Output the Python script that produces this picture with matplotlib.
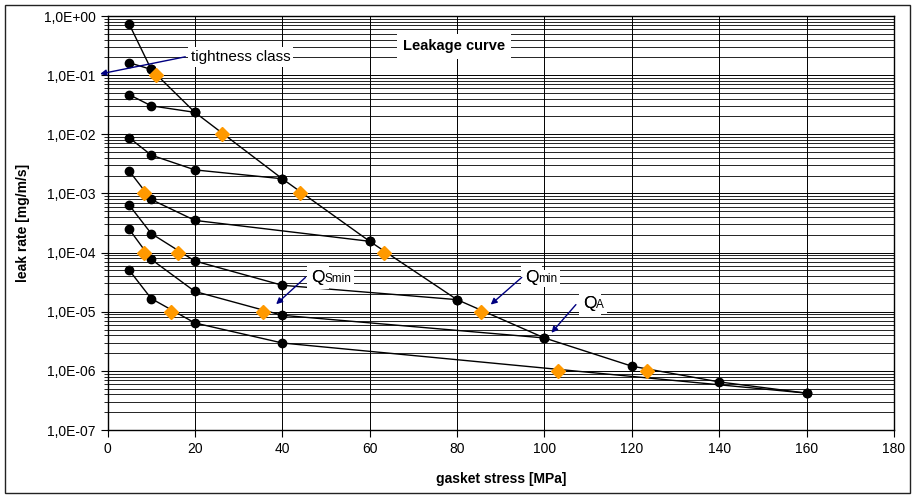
import numpy as np
import matplotlib
matplotlib.use("Agg")
import matplotlib.pyplot as plt
from matplotlib.ticker import FixedLocator, FixedFormatter, LogLocator, NullFormatter

plt.rcParams['font.family'] = ['Liberation Sans', 'DejaVu Sans']

# loading curve (gasket stress MPa -> leak rate mg/m/s)
load_x = [5, 10, 20, 40, 60, 80, 100, 120, 140, 160]
load_y = [0.72, 0.125, 0.0235, 0.00177, 1.55e-4, 1.6e-5, 3.6e-6, 1.2e-6, 6.5e-7, 4.2e-7]

# unloading curves, each starts at its peak on the loading curve
unload_10_x = [10, 5]
unload_10_y = [0.125, 0.162]
unload_20_x = [20, 10, 5]
unload_20_y = [0.0235, 0.0303, 0.0466]
unload_40_x = [40, 20, 10, 5]
unload_40_y = [0.00177, 0.0025, 0.00445, 0.0087]
unload_60_x = [60, 20, 10, 5]
unload_60_y = [1.55e-4, 3.5e-4, 7.9e-4, 0.00238]
unload_80_x = [80, 40, 20, 10, 5]
unload_80_y = [1.6e-5, 2.8e-5, 7.2e-5, 2.1e-4, 6.3e-4]
unload_100_x = [100, 40, 20, 10, 5]
unload_100_y = [3.6e-6, 8.7e-6, 2.2e-5, 7.7e-5, 2.46e-4]
unload_160_x = [160, 40, 20, 10, 5]
unload_160_y = [4.2e-7, 2.96e-6, 6.45e-6, 1.67e-5, 5.0e-5]

# tightness class crossings (orange diamonds)
class_x = [11, 26.1, 44, 63.3, 85.5, 103.2, 123.5, 8.4, 8.4, 16.2, 14.5, 35.7]
class_y = [1e-1, 1e-2, 1e-3, 1e-4, 1e-5, 1e-6, 1e-6, 1e-3, 1e-4, 1e-4, 1e-5, 1e-5]

x_ticks = [0, 20, 40, 60, 80, 100, 120, 140, 160, 180]
y_ticks = [1e-7, 1e-6, 1e-5, 1e-4, 1e-3, 1e-2, 1e-1, 1e0]
y_tick_labels = ['1,0E-07', '1,0E-06', '1,0E-05', '1,0E-04',
                 '1,0E-03', '1,0E-02', '1,0E-01', '1,0E+00']

fig = plt.figure(figsize=(9.17, 4.95), dpi=100)
ax = fig.add_axes([107.5 / 917, 65 / 495, 786.5 / 917, 414 / 495])
ax.set_yscale('log')
ax.set_xlim(0, 180)
ax.set_ylim(1e-7, 1e0)

curves = [(load_x, load_y), (unload_10_x, unload_10_y), (unload_20_x, unload_20_y),
          (unload_40_x, unload_40_y), (unload_60_x, unload_60_y),
          (unload_80_x, unload_80_y), (unload_100_x, unload_100_y),
          (unload_160_x, unload_160_y)]
for cx, cy in curves:
    ax.plot(cx, cy, color='black', lw=1.0, marker='o', ms=6, zorder=3)
ax.plot(class_x, class_y, ls='none', marker='D', ms=7.5, color='#FF9900',
        mec='#FF9900', zorder=4)

# axes / ticks
ax.xaxis.set_major_locator(FixedLocator(x_ticks))
ax.yaxis.set_major_locator(FixedLocator(y_ticks))
ax.yaxis.set_major_formatter(FixedFormatter(y_tick_labels))
ax.yaxis.set_minor_locator(LogLocator(base=10, subs=np.arange(2, 10)))
ax.yaxis.set_minor_formatter(NullFormatter())
ax.tick_params(axis='both', which='major', direction='out', length=5, width=0.8,
               labelsize=10, colors='black')
ax.tick_params(axis='y', which='minor', direction='out', length=3, width=0.6)
ax.grid(True, which='major', axis='both', color='black', lw=0.7)
ax.grid(True, which='minor', axis='y', color='black', lw=0.6)
ax.set_axisbelow(True)
for s in ax.spines.values():
    s.set_color('black')
    s.set_linewidth(1.0)

ax.set_xlabel('gasket stress [MPa]', fontsize=10, fontweight='bold', labelpad=12)
ax.set_ylabel('leak rate [mg/m/s]', fontsize=10, fontweight='bold', labelpad=10)

# title in a white box inside the plot
ax.text(79.3, 10 ** -0.51, 'Leakage curve', fontsize=10.5, fontweight='bold',
        ha='center', va='center', zorder=5,
        bbox=dict(facecolor='white', edgecolor='none', pad=4))

arrow = dict(arrowstyle='-|>', color='#000080', lw=1.0, mutation_scale=9,
             shrinkA=0, shrinkB=0)

# tightness class
ax.annotate('', xy=(-1.7, 10 ** -0.98), xytext=(17.8, 10 ** -0.69),
            arrowprops=arrow, annotation_clip=False, zorder=6)
ax.text(30.5, 10 ** -0.69, 'tightness class', fontsize=11, ha='center', va='center',
        zorder=5, bbox=dict(facecolor='white', edgecolor='none', pad=2))


def q_label(xt, yt, sub, tip, start):
    ax.annotate('', xy=tip, xytext=start, arrowprops=arrow, zorder=6)
    t = ax.text(xt, yt, 'Q', fontsize=12.5, ha='left', va='baseline', zorder=5,
                bbox=dict(facecolor='white', edgecolor='none', pad=3))
    fig.canvas.draw()
    bb = t.get_window_extent()
    x1, _ = ax.transData.inverted().transform((bb.x1, bb.y0))
    ax.text(x1, yt, sub, fontsize=8.5, ha='left', va='baseline', zorder=5.1,
            bbox=dict(facecolor='white', edgecolor='none', pad=2))
    # redraw the Q on top so the subscript box does not clip it
    ax.text(xt, yt, 'Q', fontsize=12.5, ha='left', va='baseline', zorder=5.2)


q_label(46.6, 10 ** -4.5, 'Smin', (38.6, 1.34e-5), (45.3, 10 ** -4.42))
q_label(95.5, 10 ** -4.49, 'min', (87.7, 1.32e-5), (94.8, 10 ** -4.42))
q_label(108.8, 10 ** -4.94, 'A', (101.6, 4.4e-6), (107.2, 10 ** -4.88))

# outer frame
fig.add_artist(plt.Rectangle((5 / 917, 2 / 495), 905 / 917, 488 / 495,
                             transform=fig.transFigure, fill=False,
                             edgecolor='#222222', lw=1.0))

fig.savefig('out.png', dpi=100)
